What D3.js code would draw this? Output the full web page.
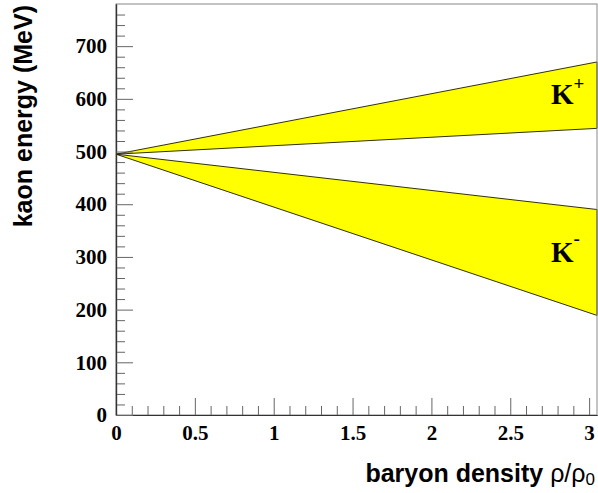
<!DOCTYPE html>
<html>
<head>
<meta charset="utf-8">
<script src="https://cdn.jsdelivr.net/npm/d3@7"></script>
<style>
  html, body { margin: 0; padding: 0; background: #fff; }
  svg { display: block; }
</style>
</head>
<body>
<svg id="chart" width="598" height="493"></svg>
<script>
// Kaon energy bands in nuclear matter vs. baryon density
const density      = [0, 3.05];
const kPlusUpper   = [495, 670];
const kPlusLower   = [495, 544];
const kMinusUpper  = [495, 390];
const kMinusLower  = [495, 189];

const xMajorTicks = [0, 0.5, 1, 1.5, 2, 2.5, 3];
const xTickLabels = ["0", "0.5", "1", "1.5", "2", "2.5", "3"];
const yMajorTicks = [0, 100, 200, 300, 400, 500, 600, 700];
const yTickLabels = ["0", "100", "200", "300", "400", "500", "600", "700"];

const svg = d3.select("#chart");
const plotLeft = 116, plotRight = 597, plotTop = 4, plotBottom = 415;

const x = d3.scaleLinear().domain([0, 3.05]).range([plotLeft, plotRight]);
const y = d3.scaleLinear().domain([0, 780]).range([plotBottom, plotTop]);

// bands
const bands = [
  { name: "K+", lo: kPlusLower, hi: kPlusUpper },
  { name: "K-", lo: kMinusLower, hi: kMinusUpper }
];
const area = d3.area()
  .x(d => x(d.x))
  .y0(d => y(d.lo))
  .y1(d => y(d.hi));

bands.forEach(b => {
  const pts = density.map((d, i) => ({ x: d, lo: b.lo[i], hi: b.hi[i] }));
  svg.append("path")
    .attr("d", area(pts))
    .attr("fill", "#ffff00")
    .attr("stroke", "#1a1a00")
    .attr("stroke-width", 0.9)
    .attr("stroke-linejoin", "miter");
});

// frame
svg.append("rect")
  .attr("x", plotLeft).attr("y", plotTop)
  .attr("width", plotRight - plotLeft).attr("height", plotBottom - plotTop)
  .attr("fill", "none")
  .attr("stroke", "#888")
  .attr("stroke-width", 1);

const serif = "'Liberation Serif', 'Times New Roman', serif";
const sans = "'Liberation Sans', Arial, Helvetica, sans-serif";

// minor ticks
const xMinor = d3.range(0, 3.0501, 0.1).filter(v => xMajorTicks.every(m => Math.abs(m - v) > 1e-6));
const yMinor = d3.range(0, 781, 20).filter(v => v % 100 !== 0 && v < 780);

const xMinorAxis = d3.axisBottom(x).tickValues(xMinor).tickSizeInner(-9).tickSizeOuter(0).tickFormat("");
const yMinorAxis = d3.axisLeft(y).tickValues(yMinor).tickSizeInner(-9).tickSizeOuter(0).tickFormat("");

const xAxis = d3.axisBottom(x).tickValues(xMajorTicks)
  .tickSizeInner(-17).tickSizeOuter(0).tickPadding(10)
  .tickFormat((d, i) => xTickLabels[i]);
const yAxis = d3.axisLeft(y).tickValues(yMajorTicks)
  .tickSizeInner(-17).tickSizeOuter(0).tickPadding(9)
  .tickFormat((d, i) => yTickLabels[i]);

function style(g) {
  g.select(".domain").attr("stroke", "#333").attr("stroke-width", 1.2);
  g.selectAll(".tick line").attr("stroke", "#666").attr("stroke-width", 1);
  g.selectAll(".tick text")
    .attr("font-family", serif)
    .attr("font-weight", "bold")
    .attr("font-size", 21)
    .attr("fill", "#000");
}

svg.append("g").attr("transform", `translate(0,${plotBottom})`).call(xMinorAxis).call(style);
svg.append("g").attr("transform", `translate(${plotLeft},0)`).call(yMinorAxis).call(style);
svg.append("g").attr("transform", `translate(0,${plotBottom})`).call(xAxis).call(style);
svg.append("g").attr("transform", `translate(${plotLeft},0)`).call(yAxis).call(style);

// axis titles
svg.append("text")
  .attr("transform", "translate(32,5) rotate(-90)")
  .attr("text-anchor", "end")
  .attr("font-family", sans)
  .attr("font-weight", "bold")
  .attr("font-size", 25)
  .attr("fill", "#000")
  .text("kaon energy (MeV)");

const xt = svg.append("text")
  .attr("x", 595).attr("y", 482)
  .attr("text-anchor", "end")
  .attr("font-family", sans)
  .attr("font-size", 25)
  .attr("fill", "#000");
xt.append("tspan").attr("font-weight", "bold").text("baryon density ");
xt.append("tspan").attr("font-weight", "normal").text("ρ/ρ");
xt.append("tspan").attr("font-weight", "normal").attr("font-size", 17).attr("dy", 3).text("0");

// band labels
const kp = svg.append("text")
  .attr("x", 551).attr("y", 104)
  .attr("font-family", serif).attr("font-weight", "bold")
  .attr("font-size", 29).attr("fill", "#000");
kp.append("tspan").text("K");
kp.append("tspan").attr("font-size", 19).attr("dy", -14).text("+");

const km = svg.append("text")
  .attr("x", 551).attr("y", 261.5)
  .attr("font-family", serif).attr("font-weight", "bold")
  .attr("font-size", 29).attr("fill", "#000");
km.append("tspan").text("K");
km.append("tspan").attr("font-size", 19).attr("dy", -16.5).text("-");
</script>
</body>
</html>
